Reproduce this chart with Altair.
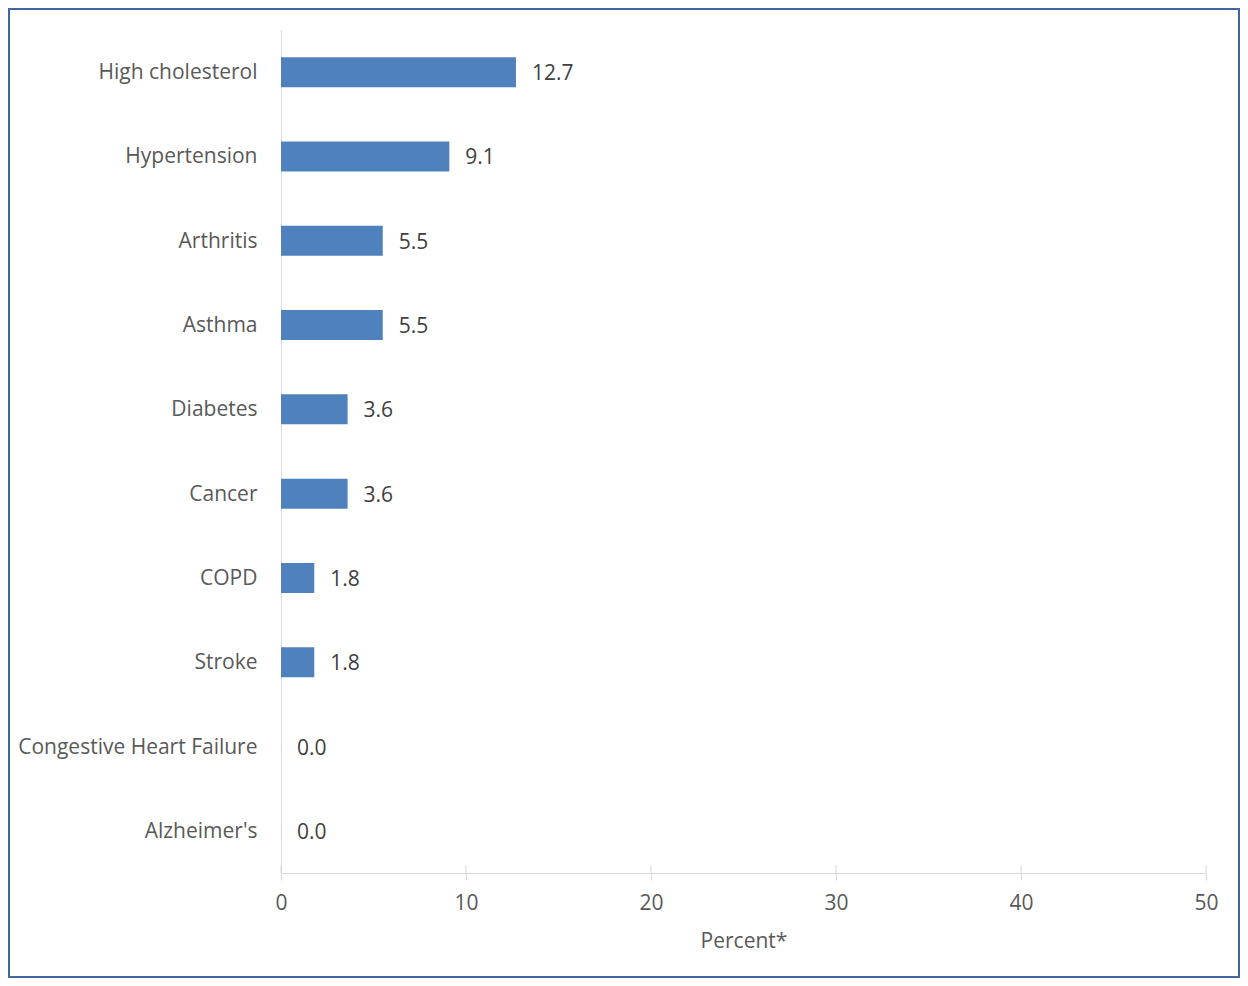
import altair as alt
import pandas as pd

categories = ["High cholesterol", "Hypertension", "Arthritis", "Asthma", "Diabetes",
              "Cancer", "COPD", "Stroke", "Congestive Heart Failure", "Alzheimer's"]
values = [12.7, 9.1, 5.5, 5.5, 3.6, 3.6, 1.8, 1.8, 0.0, 0.0]
x_ticks = [0, 10, 20, 30, 40, 50]

df = pd.DataFrame({"condition": categories, "percent": values})
ticks_df = pd.DataFrame({"percent": x_ticks})

FONT = "Open Sans"
TXT = "#595959"
FS = 21
W, H = 925, 843

x_enc = alt.X("percent:Q", scale=alt.Scale(domain=[0, 50], nice=False),
              axis=alt.Axis(values=x_ticks, title="Percent*", grid=False,
                            domainColor="#d9d9d9", tickColor="#d9d9d9", tickSize=7,
                            labelFlush=False, labelOverlap=False,
                            labelFontSize=FS, labelColor=TXT, labelFont=FONT, labelPadding=12,
                            titleFontSize=FS, titleColor=TXT, titleFont=FONT,
                            titleFontWeight="normal", titlePadding=17))
y_enc = alt.Y("condition:N", sort=categories,
              scale=alt.Scale(paddingInner=0.644, paddingOuter=0.322),
              axis=alt.Axis(title=None, ticks=False, domainColor="#d9d9d9",
                            labelLimit=500, labelOffset=1,
                            labelFontSize=FS, labelColor=TXT, labelFont=FONT, labelPadding=24))

base = alt.Chart(df)
bars = base.mark_bar(color="#4f81bd").encode(x=x_enc, y=y_enc)
labels = base.mark_text(align="left", dx=16, dy=2, fontSize=FS, font=FONT, color="#404040").encode(
    x="percent:Q", y=alt.Y("condition:N", sort=categories),
    text=alt.Text("percent:Q", format=".1f"))

# upper half of the "cross" tick marks on the x axis
up_ticks = alt.Chart(ticks_df).mark_rule(color="#d9d9d9", strokeWidth=1).encode(
    x="percent:Q", y=alt.value(H - 8), y2=alt.value(H))

frame = alt.Chart(alt.Data(values=[{}])).mark_rect(
    filled=False, stroke="#41679e", strokeWidth=2).encode(
    x=alt.value(-272), x2=alt.value(W + 33), y=alt.value(-21), y2=alt.value(H + 104))

chart = alt.layer(bars, labels, up_ticks, frame).properties(
    width=W, height=H,
    autosize=alt.AutoSizeParams(type="none"),
    padding={"left": 273, "top": 22, "right": 34, "bottom": 105},
).configure(background="white").configure_view(strokeWidth=0)

chart.save("out.html", embed_options={"renderer": "svg", "actions": False})
